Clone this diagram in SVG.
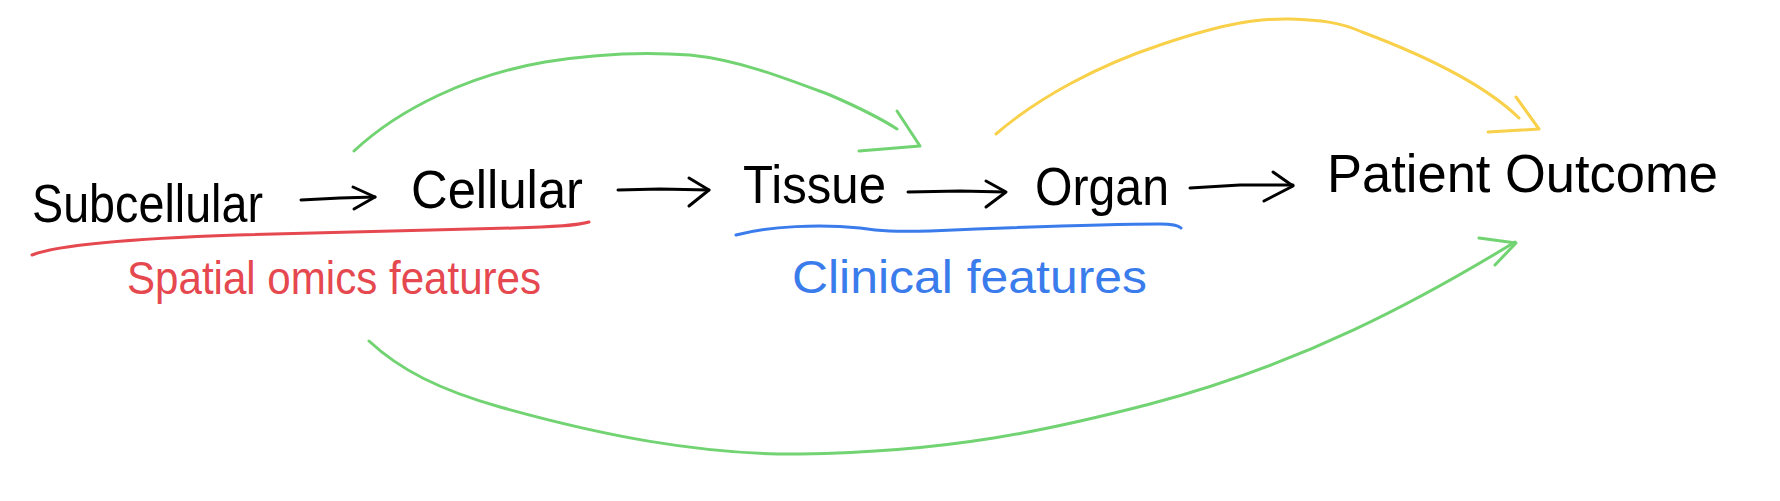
<svg xmlns="http://www.w3.org/2000/svg" width="1780" height="501" viewBox="0 0 1780 501">
<style>
  .bg { fill: #ffffff; }
  .node text { font-family: "Liberation Sans", Arial, sans-serif; font-size: 54px; fill: #000; }
  .lbl { font-family: "Liberation Sans", Arial, sans-serif; font-size: 46px; }
  .red { fill: #E5484F; }
  .blue { fill: #3A7CEB; }
  .stroke { fill: none; stroke-linecap: round; stroke-linejoin: round; }
  .k { stroke: #000; stroke-width: 3; }
  .g { stroke: #72D372; stroke-width: 3; }
  .y { stroke: #F8D049; stroke-width: 3; }
  .r { stroke: #E5484F; stroke-width: 3; }
  .b { stroke: #3A7CEB; stroke-width: 3; }
</style>
<rect class="bg" x="0" y="0" width="1780" height="501"/>

<g id="nodes">
  <g id="node-subcellular" class="node"><text x="32" y="222" textLength="231" lengthAdjust="spacingAndGlyphs">Subcellular</text></g>
  <g id="node-cellular" class="node"><text x="411" y="208" textLength="172" lengthAdjust="spacingAndGlyphs">Cellular</text></g>
  <g id="node-tissue" class="node"><text x="743" y="203" textLength="143" lengthAdjust="spacingAndGlyphs">Tissue</text></g>
  <g id="node-organ" class="node"><text x="1035" y="205" textLength="134" lengthAdjust="spacingAndGlyphs">Organ</text></g>
  <g id="node-patient-outcome" class="node"><text x="1327" y="192" textLength="391" lengthAdjust="spacingAndGlyphs">Patient Outcome</text></g>
</g>

<g id="annotations">
  <g id="label-spatial-omics">
    <path class="stroke r" d="M32,255 C60,244 150,238 237,235 C350,232 450,230 514,228 C550,227 575,226 589,222"/>
    <text class="lbl red" x="127" y="294" textLength="414" lengthAdjust="spacingAndGlyphs">Spatial omics features</text>
  </g>
  <g id="label-clinical">
    <path class="stroke b" d="M736,235 C770,226 820,224 860,228 C880,231 895,232 930,231 C1000,228 1100,224 1160,224 C1170,224 1178,225 1181,228"/>
    <text class="lbl blue" x="792" y="293" textLength="355" lengthAdjust="spacingAndGlyphs">Clinical features</text>
  </g>
</g>

<g id="connectors">
  <!-- black chain arrows -->
  <path class="stroke k" d="M301,200 L340,198 L375,197"/>
  <path class="stroke k" d="M353,187 L375,197 L354,209"/>
  <path class="stroke k" d="M618,190 L660,189 L709,190"/>
  <path class="stroke k" d="M689,178 L709,190 L689,206"/>
  <path class="stroke k" d="M908,192 L960,191 L1005,192"/>
  <path class="stroke k" d="M986,181 L1006,192 L986,207"/>
  <path class="stroke k" d="M1190,188 L1240,185 L1293,185"/>
  <path class="stroke k" d="M1273,172 L1293,186 L1264,201"/>

  <!-- green: Cellular to Tissue -->
  <path class="stroke g" d="M354,151 C400,108 470,75 545,62 C600,53 650,52 690,55 C740,60 790,80 830,95 C860,108 880,118 897,129"/>
  <path class="stroke g" d="M897,111 L920,146 L859,151"/>

  <!-- yellow: Organ to Patient Outcome -->
  <path class="stroke y" d="M996,134 C1040,96 1100,65 1160,45 C1210,28 1250,18 1290,19 C1320,20 1340,22 1362,32 C1410,50 1480,80 1519,118"/>
  <path class="stroke y" d="M1516,97 L1539,129 L1488,132"/>

  <!-- green: bottom arc to Patient Outcome -->
  <path class="stroke g" d="M369,341 C400,370 440,390 500,407 C600,435 700,455 800,454 C950,452 1050,430 1150,404 C1300,365 1420,300 1515,242"/>
  <path class="stroke g" d="M1479,238 L1516,243 L1495,265"/>
</g>
</svg>
